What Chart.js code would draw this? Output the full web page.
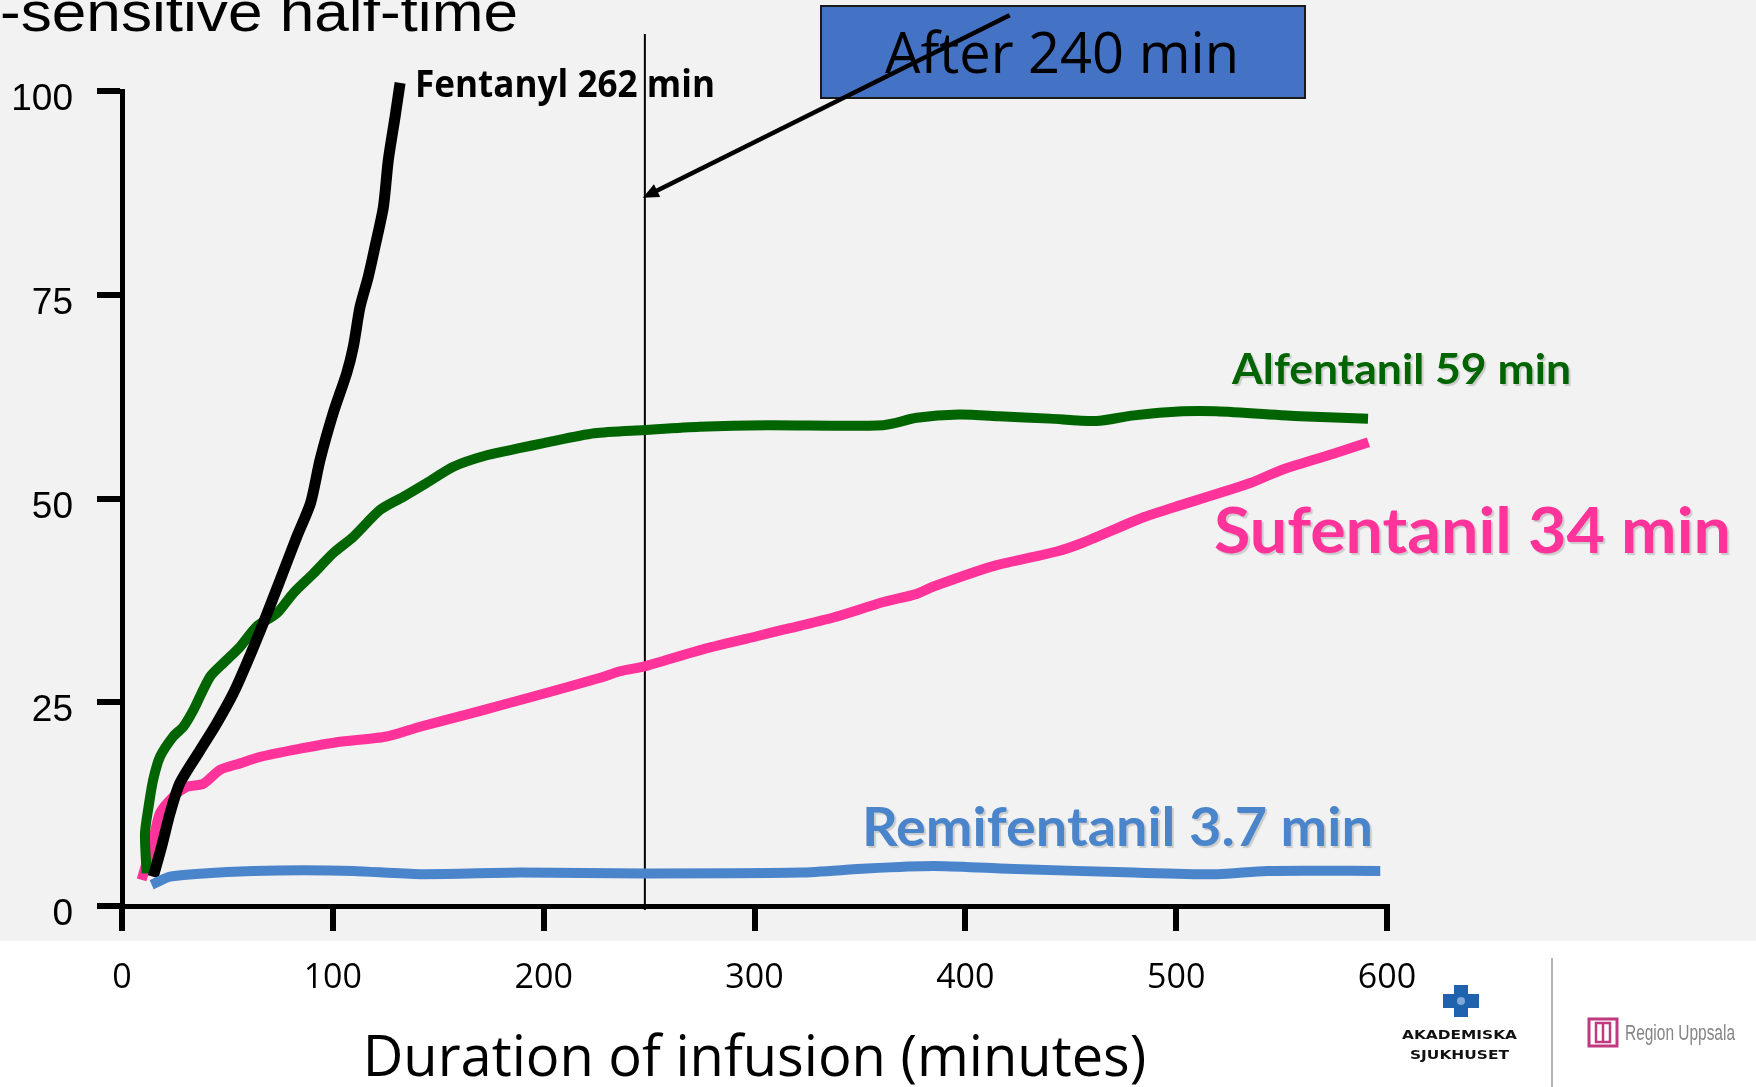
<!DOCTYPE html>
<html lang="en">
<head>
<meta charset="UTF-8">
<title>Context-sensitive half-time</title>
<script src="https://cdn.jsdelivr.net/npm/chart.js"></script>
<style>
  html, body { margin: 0; padding: 0; background: #fff; }
  #chart { display: block; }
</style>
</head>
<body>
<canvas id="chart" width="1756" height="1087"></canvas>
<script>
// duration of infusion (min) vs context-sensitive half-time (min)
const fentanylDuration = [14.8, 18.8, 22.8, 27.5, 37.0, 44.9, 52.8, 59.2, 67.0, 75.0, 82.9, 89.5, 93.9, 100.2, 106.6, 109.7, 112.9, 116.8, 120.0, 124.0, 126.3, 129.5, 131.9];
const fentanylHalfTime = [3.6, 7.3, 11.4, 15.1, 19.1, 22.4, 26.1, 29.8, 34.7, 40.0, 45.3, 49.5, 54.7, 60.5, 65.4, 68.6, 73.5, 77.2, 80.9, 85.8, 91.5, 96.8, 101.0];

const alfentanilDuration = [11.7, 10.9, 12.8, 14.8, 18.0, 24.3, 29.1, 33.8, 41.7, 48.1, 56.0, 63.9, 73.4, 81.3, 90.8, 100.2, 109.7, 122.4, 133.4, 144.5, 157.2, 173, 189, 200, 224, 248, 274, 306, 361, 377, 397, 416, 440, 462, 480, 503, 519, 559, 591];
const alfentanilHalfTime = [4.0, 8.9, 12.5, 15.5, 18.3, 20.8, 22.0, 24.0, 28.1, 29.8, 31.8, 34.3, 35.9, 38.4, 40.8, 43.3, 45.3, 48.6, 50.2, 51.9, 53.9, 55.3, 56.2, 56.8, 58.0, 58.4, 58.8, 59.0, 59.0, 59.9, 60.3, 60.1, 59.8, 59.5, 60.2, 60.7, 60.7, 60.1, 59.8];

const sufentanilDuration = [9.3, 14.8, 18.0, 24.3, 30.7, 38.6, 46.5, 56.0, 65.5, 84.4, 101.8, 125.6, 141.4, 165.1, 179.3, 195.1, 226.8, 236.2, 247.8, 274.2, 301.1, 313.7, 337.4, 361.2, 377, 384.9, 413.3, 443.4, 456, 484.5, 498.7, 535.1, 550.9, 574.6, 591.2];
const sufentanilHalfTime = [3.2, 8.1, 11.4, 13.4, 14.6, 15.0, 16.7, 17.5, 18.3, 19.3, 20.1, 20.8, 22.0, 23.6, 24.6, 25.7, 28.0, 28.8, 29.4, 31.4, 33.1, 33.9, 35.4, 37.3, 38.3, 39.2, 41.7, 43.5, 44.6, 47.7, 48.9, 51.9, 53.6, 55.5, 56.9];

const remifentanilDuration = [14.1, 22.8, 38.6, 62.3, 86, 109.7, 141.4, 188.8, 247.8, 321.6, 353.2, 384.9, 416.5, 479.8, 519.3, 543, 596.8];
const remifentanilHalfTime = [2.6, 3.6, 4.0, 4.3, 4.4, 4.3, 3.9, 4.1, 4.0, 4.1, 4.6, 4.9, 4.6, 4.1, 3.9, 4.3, 4.3];

const xTicks = [0, 100, 200, 300, 400, 500, 600];
const yTicks = [0, 25, 50, 75, 100];

// "After 240 min" marker line and arrow (data units)
const markerDuration = [248, 248];
const markerHalfTime = [-0.5, 107];
const arrowDuration = [421, 247];
const arrowHalfTime = [109.3, 86.9];

const pts = (xs, ys) => xs.map((x, i) => ({ x: x, y: ys[i] }));

function fitText(ctx, text, x, baseline, width, font, color, shadow) {
  ctx.save();
  ctx.font = font;
  const w = ctx.measureText(text).width;
  if (shadow) {
    ctx.shadowColor = 'rgba(0,0,0,0.16)';
    ctx.shadowOffsetX = 2;
    ctx.shadowOffsetY = 2;
    ctx.shadowBlur = 1;
  }
  ctx.translate(x, baseline);
  ctx.scale(width / w, 1);
  ctx.fillStyle = color;
  ctx.textAlign = 'left';
  ctx.textBaseline = 'alphabetic';
  ctx.fillText(text, 0, 0);
  ctx.restore();
}

const slideDecor = {
  id: 'slideDecor',
  beforeDraw(chart) {
    const ctx = chart.ctx;
    ctx.save();
    ctx.fillStyle = '#ffffff';
    ctx.fillRect(0, 0, chart.width, chart.height);
    ctx.fillStyle = '#f2f2f2';
    ctx.fillRect(0, 0, chart.width, 941);
    ctx.restore();
  },
  afterDraw(chart) {
    const ctx = chart.ctx;
    const xs = chart.scales.x, ys = chart.scales.y;

    // slide title (cut off at the top)
    fitText(ctx, '-sensitive half-time', 0, 31, 518, '56px "Liberation Sans", Arial, sans-serif', '#000');

    // series labels
    fitText(ctx, 'Fentanyl 262 min', 415, 97, 300, 'bold 38px "Open Sans", sans-serif', '#000');
    fitText(ctx, 'Alfentanil 59 min', 1232, 384, 339, 'bold 42px Lato, sans-serif', '#006400', true);
    fitText(ctx, 'Sufentanil 34 min', 1214, 553, 517, 'bold 64px Lato, sans-serif', '#ff3399', true);
    fitText(ctx, 'Remifentanil 3.7 min', 862, 846, 511, 'bold 53px Lato, sans-serif', '#4a85cc', true);

    // blue call-out box
    ctx.save();
    ctx.fillStyle = '#4472c4';
    ctx.fillRect(821, 6, 484, 92);
    ctx.lineWidth = 2;
    ctx.strokeStyle = '#1a1a1a';
    ctx.strokeRect(821, 6, 484, 92);
    ctx.restore();
    fitText(ctx, 'After 240 min', 885, 73, 354, '57px "Open Sans", sans-serif', '#000');

    // arrow to the marker line
    const x1 = xs.getPixelForValue(arrowDuration[0]), y1 = ys.getPixelForValue(arrowHalfTime[0]);
    const x2 = xs.getPixelForValue(arrowDuration[1]), y2 = ys.getPixelForValue(arrowHalfTime[1]);
    const ang = Math.atan2(y2 - y1, x2 - x1);
    ctx.save();
    ctx.strokeStyle = '#000';
    ctx.lineWidth = 4.5;
    ctx.beginPath();
    ctx.moveTo(x1, y1);
    ctx.lineTo(x2 - 10 * Math.cos(ang), y2 - 10 * Math.sin(ang));
    ctx.stroke();
    ctx.fillStyle = '#000';
    ctx.beginPath();
    ctx.moveTo(x2, y2);
    ctx.lineTo(x2 - 16 * Math.cos(ang) + 7 * Math.sin(ang), y2 - 16 * Math.sin(ang) - 7 * Math.cos(ang));
    ctx.lineTo(x2 - 16 * Math.cos(ang) - 7 * Math.sin(ang), y2 - 16 * Math.sin(ang) + 7 * Math.cos(ang));
    ctx.closePath();
    ctx.fill();
    ctx.restore();

    // logos, bottom right
    ctx.save();
    ctx.fillStyle = '#1f62ad';
    ctx.fillRect(1454, 985, 14, 32);
    ctx.fillRect(1443, 994, 36, 14);
    ctx.fillStyle = '#7fa8d8';
    ctx.beginPath();
    ctx.arc(1461, 1001, 4, 0, Math.PI * 2);
    ctx.fill();
    ctx.strokeStyle = '#9a9a9a';
    ctx.lineWidth = 1.5;
    ctx.beginPath();
    ctx.moveTo(1552, 958);
    ctx.lineTo(1552, 1087);
    ctx.stroke();
    ctx.strokeStyle = '#c0397f';
    ctx.lineWidth = 3;
    ctx.strokeRect(1589, 1019, 28, 27);
    ctx.lineWidth = 2.5;
    ctx.strokeRect(1596, 1023, 14, 19);
    ctx.beginPath();
    ctx.moveTo(1603, 1023);
    ctx.lineTo(1603, 1042);
    ctx.stroke();
    ctx.restore();
    fitText(ctx, 'AKADEMISKA', 1402, 1039, 115, 'bold 12px "DejaVu Sans", sans-serif', '#111');
    fitText(ctx, 'SJUKHUSET', 1410, 1059, 99, 'bold 12px "DejaVu Sans", sans-serif', '#111');
    fitText(ctx, 'Region Uppsala', 1625, 1040, 110, '22px "Liberation Sans Narrow", "Liberation Sans", sans-serif', '#858585');
  }
};

const line = (data, color, width, order) => ({
  data: data,
  showLine: true,
  borderColor: color,
  backgroundColor: color,
  borderWidth: width,
  pointRadius: 0,
  tension: 0.25,
  borderJoinStyle: 'round',
  clip: false,
  order: order
});

new Chart(document.getElementById('chart'), {
  type: 'scatter',
  data: {
    datasets: [
      line(pts(remifentanilDuration, remifentanilHalfTime), '#4a85cc', 10, 1),
      line(pts(fentanylDuration, fentanylHalfTime), '#000000', 11, 2),
      line(pts(alfentanilDuration, alfentanilHalfTime), '#006400', 10, 3),
      line(pts(sufentanilDuration, sufentanilHalfTime), '#ff3399', 10, 4),
      Object.assign(line(pts(markerDuration, markerHalfTime), '#000000', 2, 5), { tension: 0 })
    ]
  },
  options: {
    responsive: false,
    animation: false,
    layout: { padding: { top: 91, right: 369, left: 0, bottom: 0 } },
    plugins: {
      legend: { display: false },
      tooltip: { enabled: false }
    },
    scales: {
      x: {
        type: 'linear',
        min: 0,
        max: 600,
        afterBuildTicks: s => { s.ticks = xTicks.map(v => ({ value: v })); },
        afterFit: s => { s.height = 181; },
        border: { color: '#000', width: 5 },
        grid: { drawOnChartArea: false, color: '#000', tickColor: '#000', tickLength: 25, tickWidth: 6, lineWidth: 6 },
        ticks: { color: '#000', padding: 27, maxRotation: 0, autoSkip: false, font: { family: '"Open Sans"', size: 34 } },
        title: {
          display: true,
          text: 'Duration of infusion (minutes)',
          color: '#000',
          font: { family: '"Open Sans"', size: 56, lineHeight: 0.95 },
          padding: { top: 0, bottom: 0 }
        }
      },
      y: {
        type: 'linear',
        min: 0,
        max: 100,
        afterBuildTicks: s => { s.ticks = yTicks.map(v => ({ value: v })); },
        afterFit: s => { s.width = 122; },
        border: { color: '#000', width: 5 },
        grid: { drawOnChartArea: false, color: '#000', tickColor: '#000', tickLength: 25, tickWidth: 6, lineWidth: 6 },
        ticks: { color: '#000', padding: 24, labelOffset: 9, font: { family: '"Liberation Sans"', size: 37 } }
      }
    }
  },
  plugins: [slideDecor]
});
</script>
</body>
</html>
